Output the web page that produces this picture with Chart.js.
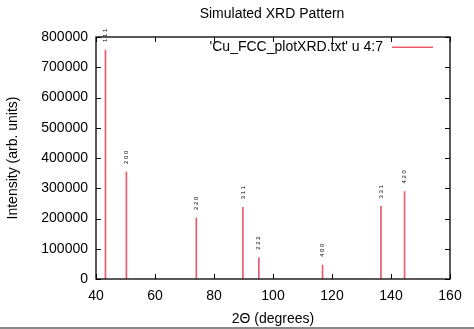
<!DOCTYPE html>
<html>
<head>
<meta charset="utf-8">
<script src="https://cdn.jsdelivr.net/npm/chart.js@4"></script>
<style>
  html, body { margin: 0; padding: 0; background: #fff; }
  #wrap { width: 474px; height: 327px; }
  #strip { width: 474px; height: 2px; background: #8a8a8a; }
</style>
</head>
<body>
<div id="wrap"><canvas id="chart1" width="474" height="327"></canvas></div>
<div id="strip"></div>
<script>
// peak positions (2 theta), intensities and Miller indices
const angles = [43.2, 50.3, 74.0, 89.8, 95.2, 116.8, 136.6, 144.6];
const intensities = [757000, 354000, 202000, 237000, 70000, 46000, 240000, 289000];
const hkl = ["1 1 1", "2 0 0", "2 2 0", "3 1 1", "2 2 2", "4 0 0", "3 3 1", "4 2 0"];
const xTicks = [40, 60, 80, 100, 120, 140, 160];
const yTicks = [0, 100000, 200000, 300000, 400000, 500000, 600000, 700000, 800000];

const font = "'Liberation Sans', Arial, sans-serif";
const barColor = "rgb(236,90,108)";

const framePlugin = {
    id: "frame",
    afterDatasetsDraw(chart) {
        const c = chart.ctx;
        const a = chart.chartArea;
        const xs = chart.scales.x;
        const ys = chart.scales.y;
        c.save();
        // border
        c.strokeStyle = "#000";
        c.lineWidth = 1.3;
        c.strokeRect(a.left, a.top, a.right - a.left, a.bottom - a.top);
        // inward ticks on all sides
        c.lineWidth = 1;
        c.beginPath();
        xTicks.forEach(v => {
            const px = Math.round(xs.getPixelForValue(v)) + 0.5;
            c.moveTo(px, a.bottom); c.lineTo(px, a.bottom - 5);
            c.moveTo(px, a.top); c.lineTo(px, a.top + 5);
        });
        yTicks.forEach(v => {
            const py = Math.round(ys.getPixelForValue(v)) + 0.5;
            c.moveTo(a.left, py); c.lineTo(a.left + 5, py);
            c.moveTo(a.right, py); c.lineTo(a.right - 5, py);
        });
        c.stroke();

        // Miller index labels above peaks
        c.fillStyle = "#000";
        c.font = "6px " + font;
        c.textAlign = "left";
        c.textBaseline = "middle";
        angles.forEach((v, i) => {
            const px = xs.getPixelForValue(v);
            const py = ys.getPixelForValue(intensities[i]);
            c.save();
            c.translate(px, py - 8);
            c.rotate(-Math.PI / 2);
            c.fillText(hkl[i], 0, 0);
            c.restore();
        });

        // legend
        c.font = "14px " + font;
        c.textAlign = "right";
        c.fillText(chart.data.datasets[0].label, 383, 47);
        c.fillStyle = barColor;
        c.fillRect(392, 46.5, 41, 1.5);

        // title and axis titles
        c.fillStyle = "#000";
        c.textAlign = "center";
        c.fillText("Simulated XRD Pattern", 272, 14);
        c.fillText("2\u0398 (degrees)", (a.left + a.right) / 2, 319);
        c.save();
        c.translate(13, (a.top + a.bottom) / 2);
        c.rotate(-Math.PI / 2);
        c.fillText("Intensity (arb. units)", 0, 0);
        c.restore();
        c.restore();
    }
};

new Chart(document.getElementById("chart1"), {
    type: "bar",
    data: {
        datasets: [
            {
                label: "'Cu_FCC_plotXRD.txt' u 4:7",
                data: angles.map((v, i) => ({ x: v, y: intensities[i] })),
                backgroundColor: barColor,
                borderWidth: 0,
                barThickness: 1
            }
        ]
    },
    options: {
        responsive: false,
        animation: false,
        layout: { padding: { left: 0, right: 24, top: 37, bottom: 0 } },
        plugins: {
            legend: { display: false },
            tooltip: { enabled: false }
        },
        scales: {
            x: {
                type: "linear",
                min: 40,
                max: 160,
                offset: false,
                grid: { display: false, drawTicks: false },
                border: { display: false },
                afterBuildTicks: s => { s.ticks = xTicks.map(v => ({ value: v })); },
                afterFit: s => { s.height = 48; },
                ticks: { color: "#000", padding: 9, font: { family: font, size: 14 } }
            },
            y: {
                min: 0,
                max: 800000,
                grid: { display: false, drawTicks: false },
                border: { display: false },
                afterBuildTicks: s => { s.ticks = yTicks.map(v => ({ value: v })); },
                afterFit: s => { s.width = 96; },
                ticks: { color: "#000", padding: 8, font: { family: font, size: 14 }, callback: v => String(v) }
            }
        }
    },
    plugins: [framePlugin]
});
</script>
</body>
</html>
